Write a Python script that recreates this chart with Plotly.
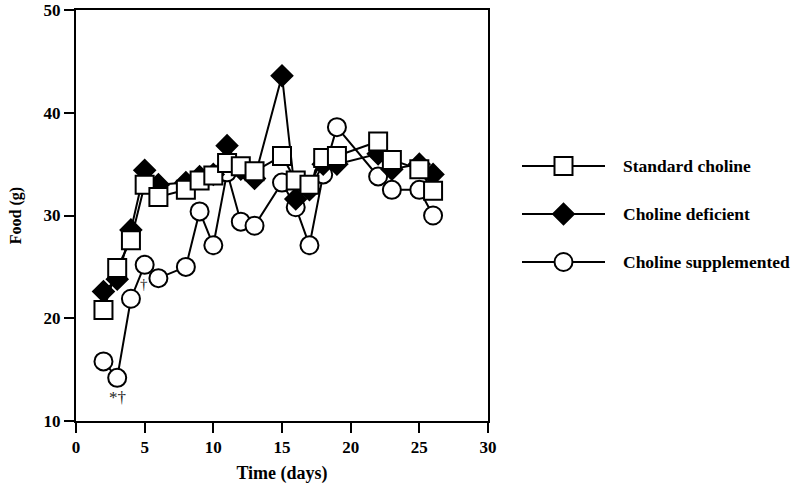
import plotly.graph_objects as go

# ---- data ----
days = [2, 3, 4, 5, 6, 8, 9, 10, 11, 12, 13, 15, 16, 17, 18, 19, 22, 23, 25, 26]
standard = [20.8, 24.9, 27.6, 33.0, 31.8, 32.5, 33.4, 33.9, 35.1, 34.8, 34.3, 35.8, 33.4, 33.0, 35.6, 35.8, 37.2, 35.4, 34.5, 32.4]
deficient = [22.6, 23.8, 28.6, 34.4, 33.0, 33.2, 33.8, 34.0, 36.8, 34.5, 33.6, 43.6, 31.6, 32.5, 35.0, 35.0, 36.0, 34.5, 35.0, 34.0]
supplemented = [15.8, 14.2, 21.9, 25.2, 23.9, 25.0, 30.4, 27.1, 34.2, 29.4, 29.0, 33.2, 30.8, 27.1, 34.0, 38.6, 33.8, 32.5, 32.5, 30.0]
series_names = ["Standard choline", "Choline deficient", "Choline supplemented"]
x_ticks = [0, 5, 10, 15, 20, 25, 30]
y_ticks = [10, 20, 30, 40, 50]

# ---- layout constants (pixels) ----
W, H = 800, 488
ML, MR, MT, MB = 76, 10, 10, 67
plot_w = W - ML - MR
plot_h = H - MT - MB
main_right = 488
dom_main = (main_right - ML) / plot_w
leg_x0, leg_x1 = 522, 605
leg_text_x = 621
leg_rows_px = [165, 213, 262]

FONT = "Liberation Serif"
BLACK = "#000000"

styles = [
    dict(symbol="square", color="white", size=18),
    dict(symbol="diamond", color="black", size=16),
    dict(symbol="circle", color="white", size=18),
]
data_sets = [standard, deficient, supplemented]

fig = go.Figure()

# draw order: circles bottom, then diamonds, squares on top
for i in [2, 1, 0]:
    st = styles[i]
    fig.add_trace(go.Scatter(
        x=days, y=data_sets[i], mode="lines+markers", name=series_names[i],
        line=dict(color=BLACK, width=2),
        marker=dict(symbol=st["symbol"], size=st["size"], color=st["color"],
                    line=dict(color=BLACK, width=2)),
        showlegend=False, xaxis="x", yaxis="y",
    ))

# custom legend on a hidden axis pair
fy = [(H - MB - p) / plot_h for p in leg_rows_px]  # domain fractions
step = fy[0] - fy[1]
rng_len = 1 / step
y0 = -fy[2] * rng_len
leg_vals = [2, 1, 0]
for i in range(3):
    st = styles[i]
    fig.add_trace(go.Scatter(
        x=[0, 1], y=[leg_vals[i]] * 2, mode="lines",
        line=dict(color=BLACK, width=2),
        showlegend=False, xaxis="x2", yaxis="y2", hoverinfo="skip",
    ))
    fig.add_trace(go.Scatter(
        x=[0.5], y=[leg_vals[i]], mode="markers",
        marker=dict(symbol=st["symbol"], size=st["size"], color=st["color"],
                    line=dict(color=BLACK, width=2)),
        showlegend=False, xaxis="x2", yaxis="y2", hoverinfo="skip",
    ))
    fig.add_annotation(
        x=(leg_text_x - ML) / plot_w, xref="paper", y=leg_vals[i], yref="y2",
        text="<b>%s</b>" % series_names[i], showarrow=False, xanchor="left", yanchor="middle",
        font=dict(family=FONT, size=17.5, color=BLACK),
    )

# significance marks
fig.add_annotation(x=3.0, y=12.3, xref="x", yref="y", text="*†", showarrow=False,
                   font=dict(family=FONT, size=17, color="#222222"))
fig.add_annotation(x=4.95, y=23.3, xref="x", yref="y", text="†", showarrow=False,
                   font=dict(family=FONT, size=15, color="#222222"))

axis_common = dict(
    showgrid=False, zeroline=False, showline=True, linecolor=BLACK, linewidth=2,
    mirror=True, ticks="outside", ticklen=10, tickwidth=2, tickcolor=BLACK,
    tickfont=dict(family=FONT, size=17, color=BLACK), automargin=False,
)

fig.update_layout(
    width=W, height=H,
    margin=dict(l=ML, r=MR, t=MT, b=MB, autoexpand=False),
    paper_bgcolor="white", plot_bgcolor="white",
    xaxis=dict(domain=[0, dom_main], range=[0, 30], tickvals=x_ticks,
               ticktext=["<b>%d</b>" % v for v in x_ticks],
               title=dict(text="<b>Time (days)</b>", font=dict(family=FONT, size=18, color=BLACK), standoff=10),
               **axis_common),
    yaxis=dict(range=[10, 50], tickvals=y_ticks,
               ticktext=["<b>%d</b>" % v for v in y_ticks],
               title=dict(text="<b>Food (g)</b>", font=dict(family=FONT, size=16, color=BLACK), standoff=18),
               **axis_common),
    xaxis2=dict(domain=[(leg_x0 - ML) / plot_w, (leg_x1 - ML) / plot_w], range=[0, 1],
                visible=False, anchor="y2"),
    yaxis2=dict(domain=[0, 1], range=[y0, y0 + rng_len], visible=False, anchor="x2"),
    showlegend=False,
)

fig.write_html("out.html", config={"displayModeBar": False},
               post_script="document.body.style.margin='0';document.body.style.overflow='hidden';")
